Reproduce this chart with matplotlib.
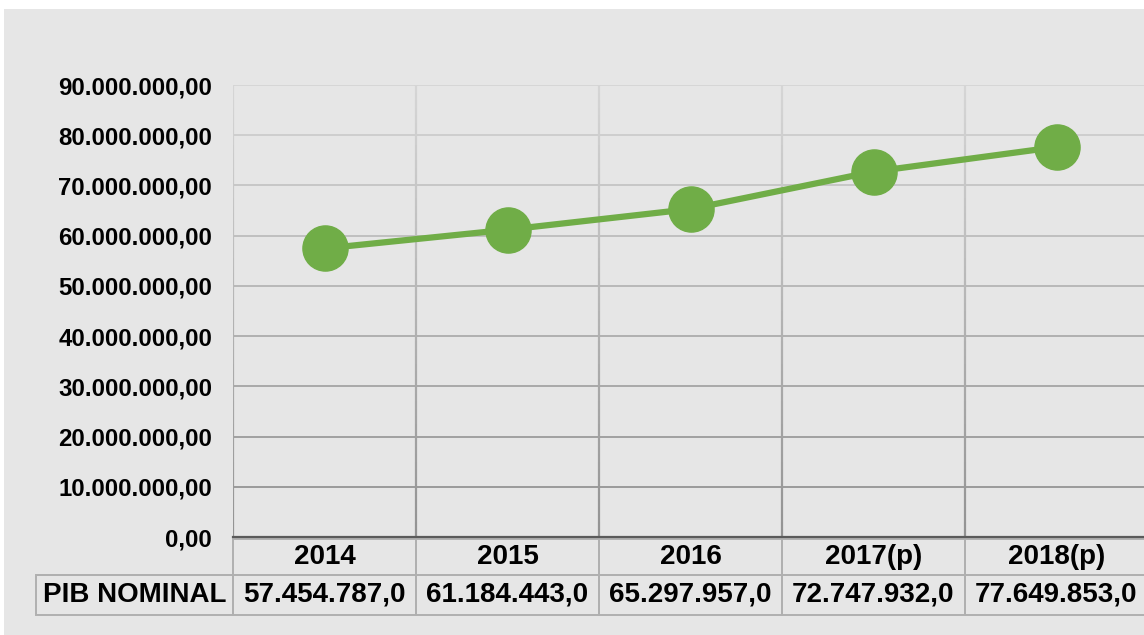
import matplotlib
matplotlib.use("Agg")
import matplotlib.pyplot as plt
import numpy as np
from matplotlib.collections import LineCollection
from matplotlib.patches import Rectangle
from matplotlib.ticker import FuncFormatter

plt.rcParams['font.family'] = ['Liberation Sans', 'DejaVu Sans']

# ---- data ----
years = ["2014", "2015", "2016", "2017(p)", "2018(p)"]
pib_nominal = [57454787.0, 61184443.0, 65297957.0, 72747932.0, 77649853.0]
value_labels = ["57.454.787,0", "61.184.443,0", "65.297.957,0", "72.747.932,0", "77.649.853,0"]
row_label = "PIB NOMINAL"
y_ticks = [0, 10e6, 20e6, 30e6, 40e6, 50e6, 60e6, 70e6, 80e6, 90e6]

W, H = 1144, 635
fig = plt.figure(figsize=(W / 100, H / 100), dpi=100, facecolor="white")
fig.patches.append(Rectangle((4 / W, 0), 1 - 4 / W, 1 - 9 / H, transform=fig.transFigure,
                             facecolor="#e6e6e6", edgecolor="none", zorder=-10))

ax_left, ax_bottom = 233 / W, 1 - 537 / H
ax_w, ax_h = 915 / W, 452 / H
ax = fig.add_axes([ax_left, ax_bottom, ax_w, ax_h])
ax.set_facecolor("none")

x = np.arange(len(years))
ax.set_xlim(-0.5, len(years) - 0.5)
ax.set_ylim(0, 90e6)


def grad_color(frac):
    # frac: 0 at bottom, 1 at top
    top = np.array([0xd6, 0xd6, 0xd6]) / 255
    bot = np.array([0x92, 0x92, 0x92]) / 255
    return tuple(bot + (top - bot) * frac)


# horizontal gridlines
for v in y_ticks[1:]:
    ax.axhline(v, color=grad_color(v / 90e6), lw=1.4, zorder=1)

# vertical gridlines with gradient (including left edge)
n = 60
for xv in [-0.5, 0.5, 1.5, 2.5, 3.5]:
    ys = np.linspace(0, 1, n + 1)
    segs = [[(xv, ys[i] * 90e6), (xv, ys[i + 1] * 90e6)] for i in range(n)]
    cols = [grad_color((ys[i] + ys[i + 1]) / 2) for i in range(n)]
    ax.add_collection(LineCollection(segs, colors=cols, linewidths=1.6, zorder=1))

for s in ["top", "right", "left"]:
    ax.spines[s].set_visible(False)
ax.spines["bottom"].set_color("#5a5a5a")
ax.spines["bottom"].set_linewidth(1.6)

ax.plot(x, pib_nominal, color="#70ad47", lw=4.5, marker="o", markersize=32.5,
        markerfacecolor="#70ad47", markeredgecolor="#70ad47", zorder=3, clip_on=False)

ax.set_xticks([])
ax.set_yticks(y_ticks)
ax.yaxis.set_major_formatter(FuncFormatter(
    lambda v, p: "{:,.2f}".format(v).replace(",", "X").replace(".", ",").replace("X", ".")))
ax.tick_params(axis="y", length=0, pad=15, labelsize=17.3)
for t in ax.get_yticklabels():
    t.set_fontweight("bold")

# data table
px_x = lambda px: (px - 233) / 915
px_y = lambda py: (537 - py) / 452
left = px_x(36)
right = px_x(1148)
bottom = px_y(615)
top = px_y(539)
cell_text = [[""] + years, [row_label] + value_labels]
col_w = [197] + [183] * len(years)
tbl = ax.table(cellText=cell_text, colWidths=[w / sum(col_w) for w in col_w],
               cellLoc="center", bbox=[left, bottom, right - left, top - bottom])
tbl.auto_set_font_size(False)
tbl.set_fontsize(20)
for (r, c), cell in tbl.get_celld().items():
    cell.set_facecolor("none")
    cell.set_edgecolor("#b0b0b0")
    cell.set_linewidth(1.4)
    cell.get_text().set_fontweight("bold")
    cell.set_height(36 if r == 0 else 40)
    cell.PAD = 0.02
    if r == 0 and c == 0:
        cell.visible_edges = "B"

fig.savefig("out.png", dpi=100, facecolor=fig.get_facecolor())
